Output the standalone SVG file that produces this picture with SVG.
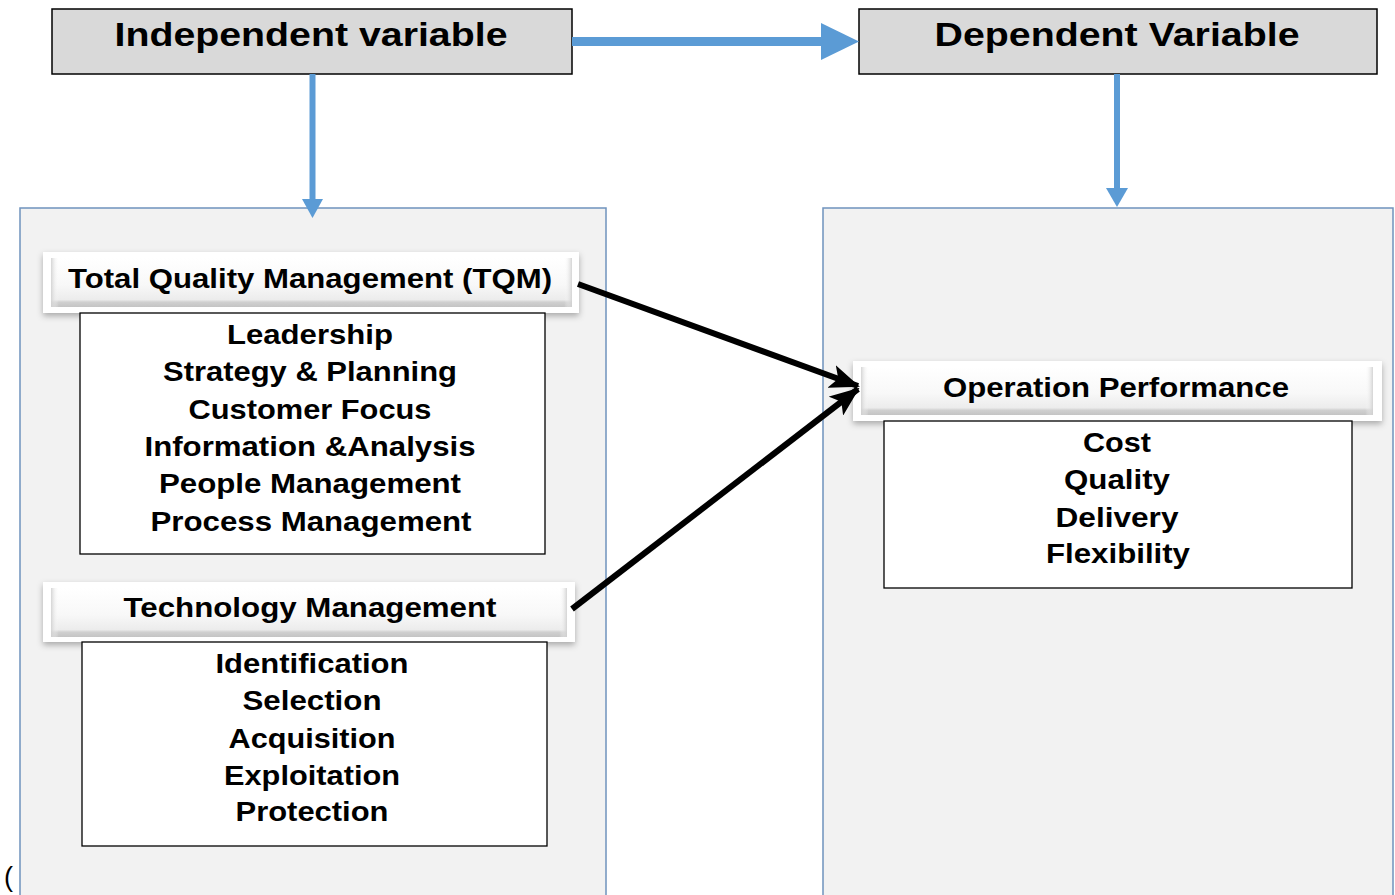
<svg xmlns="http://www.w3.org/2000/svg" width="1395" height="895" viewBox="0 0 1395 895">
<defs>
<style>
.t{font-family:"Liberation Sans",Arial,sans-serif;font-weight:bold;fill:#000;text-anchor:middle}
.title{font-size:33px}
.hd{font-size:27px}
.it{font-size:27px}
.panel{fill:#f2f2f2;stroke:#6f93bd;stroke-width:1.5}
.var{fill:#d9d9d9;stroke:#000;stroke-width:1.5}
.list{fill:#fff;stroke:#000;stroke-width:1.3}
.glow{fill:#fff;filter:url(#sh)}
.btn{fill:url(#bev)}
.side{fill:url(#sideg)}
.blue{stroke:#5b9bd5;fill:none}
.blk{stroke:#000;stroke-width:6;fill:none;marker-end:url(#ah)}
</style>
<linearGradient id="bev" x1="0" y1="0" x2="0" y2="1">
<stop offset="0" stop-color="#ffffff"/>
<stop offset="0.55" stop-color="#f8f8f8"/>
<stop offset="0.85" stop-color="#ececec"/>
<stop offset="0.9" stop-color="#d0d0d0"/>
<stop offset="1" stop-color="#c4c4c4"/>
</linearGradient>
<linearGradient id="sideg" x1="0" y1="0" x2="1" y2="0">
<stop offset="0" stop-color="#d0d0d0" stop-opacity="0.9"/>
<stop offset="0.015" stop-color="#ffffff" stop-opacity="0"/>
<stop offset="0.985" stop-color="#ffffff" stop-opacity="0"/>
<stop offset="1" stop-color="#d0d0d0" stop-opacity="0.9"/>
</linearGradient>
<filter id="sh" x="-5%" y="-30%" width="110%" height="160%">
<feDropShadow dx="0" dy="3" stdDeviation="3" flood-color="#000" flood-opacity="0.3"/>
</filter>
<marker id="ah" markerUnits="userSpaceOnUse" viewBox="0 0 30 24" refX="28" refY="12" markerWidth="30" markerHeight="24" orient="auto">
<path d="M0,0 L30,12 L0,24 L7,12 Z" fill="#000"/>
</marker>
</defs>

<g id="panel-left"><rect class="panel" x="20" y="208" width="586" height="690"/></g>
<g id="panel-right"><rect class="panel" x="823" y="208" width="570" height="690"/></g>

<g id="independent">
<rect class="var" x="52" y="9" width="520" height="65"/>
<text class="t title" x="311" y="46" textLength="393" lengthAdjust="spacingAndGlyphs">Independent variable</text>
</g>
<g id="dependent">
<rect class="var" x="859" y="9" width="518" height="65"/>
<text class="t title" x="1117" y="46" textLength="365" lengthAdjust="spacingAndGlyphs">Dependent Variable</text>
</g>

<g id="tqm">
<rect class="glow" x="43" y="252" width="536" height="61"/>
<rect class="btn" x="51" y="258" width="521" height="49"/>
<rect class="side" x="51" y="258" width="521" height="49"/>
<text class="t hd" x="310" y="288" textLength="484" lengthAdjust="spacingAndGlyphs">Total Quality Management (TQM)</text>
</g>
<g id="tqm-list">
<rect class="list" x="80" y="313" width="465" height="241"/>
<text class="t it" x="310" y="344" textLength="166" lengthAdjust="spacingAndGlyphs">Leadership</text>
<text class="t it" x="310" y="381" textLength="294" lengthAdjust="spacingAndGlyphs">Strategy &amp; Planning</text>
<text class="t it" x="310" y="419" textLength="243" lengthAdjust="spacingAndGlyphs">Customer Focus</text>
<text class="t it" x="310" y="456" textLength="331" lengthAdjust="spacingAndGlyphs">Information &amp;Analysis</text>
<text class="t it" x="310" y="493" textLength="302" lengthAdjust="spacingAndGlyphs">People Management</text>
<text class="t it" x="311" y="531" textLength="321" lengthAdjust="spacingAndGlyphs">Process Management</text>
</g>

<g id="tech">
<rect class="glow" x="43" y="582" width="532" height="60"/>
<rect class="btn" x="51" y="588" width="516" height="49"/>
<rect class="side" x="51" y="588" width="516" height="49"/>
<text class="t hd" x="310" y="617" textLength="373" lengthAdjust="spacingAndGlyphs">Technology Management</text>
</g>
<g id="tech-list">
<rect class="list" x="82" y="642" width="465" height="204"/>
<text class="t it" x="312" y="673" textLength="193" lengthAdjust="spacingAndGlyphs">Identification</text>
<text class="t it" x="312" y="710" textLength="139" lengthAdjust="spacingAndGlyphs">Selection</text>
<text class="t it" x="312" y="748" textLength="167" lengthAdjust="spacingAndGlyphs">Acquisition</text>
<text class="t it" x="312" y="785" textLength="176" lengthAdjust="spacingAndGlyphs">Exploitation</text>
<text class="t it" x="312" y="821" textLength="153" lengthAdjust="spacingAndGlyphs">Protection</text>
</g>

<g id="operation">
<rect class="glow" x="853" y="361" width="529" height="60"/>
<rect class="btn" x="861" y="367" width="512" height="48"/>
<rect class="side" x="861" y="367" width="512" height="48"/>
<text class="t hd" x="1116" y="397" textLength="346" lengthAdjust="spacingAndGlyphs">Operation Performance</text>
</g>
<g id="operation-list">
<rect class="list" x="884" y="421" width="468" height="167"/>
<text class="t it" x="1117" y="452" textLength="68" lengthAdjust="spacingAndGlyphs">Cost</text>
<text class="t it" x="1117" y="489" textLength="106" lengthAdjust="spacingAndGlyphs">Quality</text>
<text class="t it" x="1117" y="527" textLength="123" lengthAdjust="spacingAndGlyphs">Delivery</text>
<text class="t it" x="1118" y="563" textLength="144" lengthAdjust="spacingAndGlyphs">Flexibility</text>
</g>

<g id="connectors">
<line class="blue" x1="572" y1="41.5" x2="823" y2="41.5" stroke-width="9"/>
<path d="M821,23 L859,41.5 L821,60 Z" fill="#5b9bd5"/>
<line class="blue" x1="312.5" y1="74" x2="312.5" y2="200" stroke-width="6"/>
<path d="M302,199 L323,199 L312.5,218 Z" fill="#5b9bd5"/>
<line class="blue" x1="1117" y1="74" x2="1117" y2="189" stroke-width="6"/>
<path d="M1106,188 L1128,188 L1117,207 Z" fill="#5b9bd5"/>
<line class="blk" x1="578" y1="284" x2="858" y2="386"/>
<line class="blk" x1="572" y1="609" x2="858" y2="389"/>
</g>

<text x="4" y="886" style="font-family:'Liberation Sans',Arial,sans-serif;font-size:27px;fill:#000">(</text>
</svg>
